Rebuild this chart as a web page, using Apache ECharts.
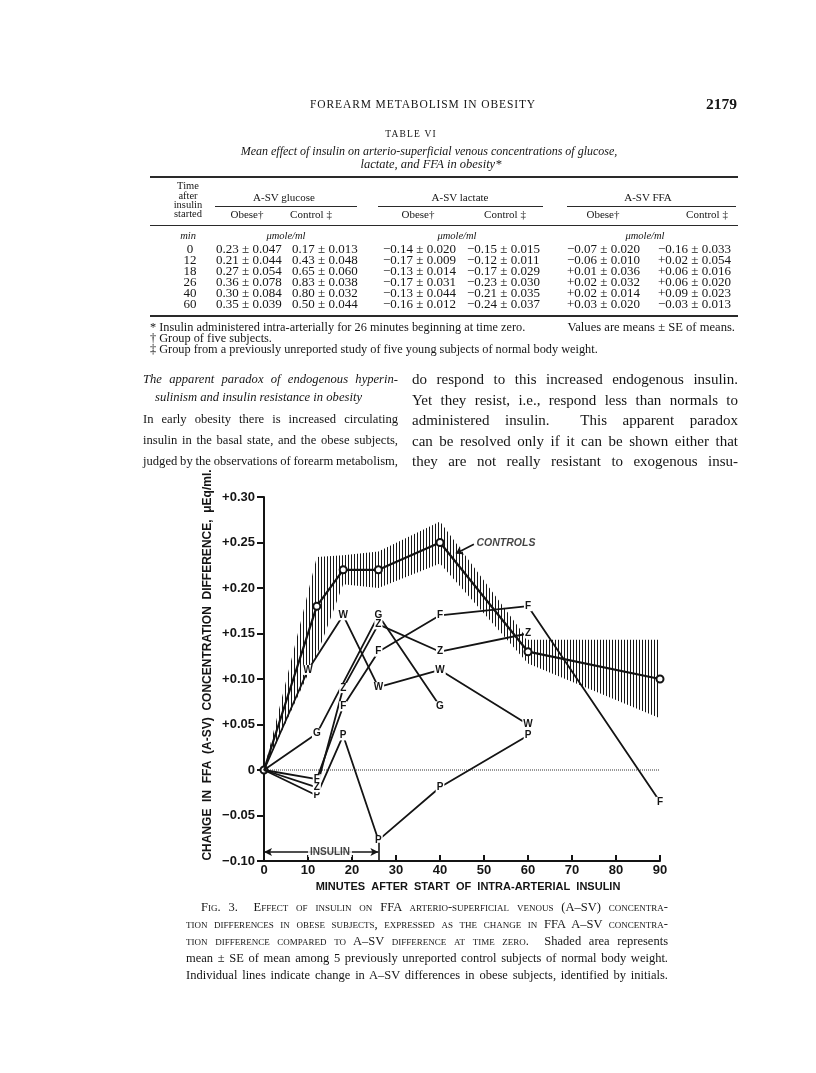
<!DOCTYPE html>
<html><head><meta charset="utf-8">
<script src="https://cdn.jsdelivr.net/npm/echarts@6/dist/echarts.min.js"></script>
<style>
html,body{margin:0;padding:0;background:#fff;}
#page{position:relative;width:816px;height:1073px;overflow:hidden;background:#fff;font-family:"Liberation Serif","DejaVu Serif",serif;color:#151515;}
#chart{position:absolute;left:0;top:0;width:816px;height:1073px;}
.t{position:absolute;white-space:nowrap;line-height:1;}
.hr{position:absolute;background:#2a2a2a;}
.sc{font-variant:small-caps;}
.it{font-style:italic;}
</style></head>
<body><div id="page"><div id="chart"></div></div>
<script>
// ---------- chart data ----------
const timesMin = [0, 12, 18, 26, 40, 60, 90];
const controlsMean = [0, 0.18, 0.22, 0.22, 0.25, 0.13, 0.10];
const controlsSE = [0, 0.054, 0.016, 0.020, 0.023, 0.013, 0.043];
const subjF = [[0,0],[12,-0.01],[18,0.07],[26,0.13],[40,0.17],[60,0.18],[90,-0.035]];
const subjG = [[0,0],[12,0.04],[26,0.17],[40,0.07]];
const subjP = [[0,0],[12,-0.028],[18,0.038],[26,-0.077],[40,-0.019],[60,0.038]];
const subjW = [[0,0],[10,0.11],[18,0.17],[26,0.091],[40,0.11],[60,0.05]];
const subjZ = [[0,0],[12,-0.019],[18,0.09],[26,0.16],[40,0.13],[60,0.15]];
const insulinMinutes = [0, 26];
const xTickLabels = ['0','10','20','30','40','50','60','70','80','90'];
const yTickLabels = ['\u22120.10','\u22120.05','0','+0.05','+0.10','+0.15','+0.20','+0.25','+0.30'];

// ---------- table data ----------
const tblTimes = ['0','12','18','26','40','60'];
const glucObese = ['0.23 \u00b1 0.047','0.21 \u00b1 0.044','0.27 \u00b1 0.054','0.36 \u00b1 0.078','0.30 \u00b1 0.084','0.35 \u00b1 0.039'];
const glucControl = ['0.17 \u00b1 0.013','0.43 \u00b1 0.048','0.65 \u00b1 0.060','0.83 \u00b1 0.038','0.80 \u00b1 0.032','0.50 \u00b1 0.044'];
const lactObese = ['\u22120.14 \u00b1 0.020','\u22120.17 \u00b1 0.009','\u22120.13 \u00b1 0.014','\u22120.17 \u00b1 0.031','\u22120.13 \u00b1 0.044','\u22120.16 \u00b1 0.012'];
const lactControl = ['\u22120.15 \u00b1 0.015','\u22120.12 \u00b1 0.011','\u22120.17 \u00b1 0.029','\u22120.23 \u00b1 0.030','\u22120.21 \u00b1 0.035','\u22120.24 \u00b1 0.037'];
const ffaObese = ['\u22120.07 \u00b1 0.020','\u22120.06 \u00b1 0.010','+0.01 \u00b1 0.036','+0.02 \u00b1 0.032','+0.02 \u00b1 0.014','+0.03 \u00b1 0.020'];
const ffaControl = ['\u22120.16 \u00b1 0.033','+0.02 \u00b1 0.054','+0.06 \u00b1 0.016','+0.06 \u00b1 0.020','+0.09 \u00b1 0.023','\u22120.03 \u00b1 0.013'];

// ---------- page text helpers ----------
const page = document.getElementById('page');
function put(html, x, y, fs, o){
  o = o || {};
  const d = document.createElement('div');
  d.className = 't' + (o.cls ? ' ' + o.cls : '');
  d.innerHTML = html;
  d.style.fontSize = fs + 'px';
  if (o.ls) d.style.letterSpacing = o.ls + 'px';
  if (o.weight) d.style.fontWeight = o.weight;
  d.style.top = (y - fs * 0.55) + 'px';
  page.appendChild(d);
  const w = d.getBoundingClientRect().width;
  if (o.width) {
    const n = (d.textContent.match(/[ \u00a0]/g) || []).length;
    if (n) d.style.wordSpacing = ((o.width - w) / n) + 'px';
    d.style.left = x + 'px';
  } else if (o.align === 'center') d.style.left = (x - w / 2) + 'px';
  else if (o.align === 'right') d.style.left = (x - w) + 'px';
  else d.style.left = x + 'px';
  return d;
}
function hr(x1, x2, y, h){
  const d = document.createElement('div'); d.className = 'hr';
  d.style.left = x1 + 'px'; d.style.width = (x2 - x1) + 'px'; d.style.top = y + 'px'; d.style.height = (h || 1) + 'px';
  page.appendChild(d);
}

// header
put('FOREARM METABOLISM IN OBESITY', 423, 105, 11.5, {align:'center', ls:0.9});
put('2179', 737, 105, 15.5, {align:'right', weight:'bold'});
put('TABLE VI', 411, 135, 9.5, {align:'center', ls:1.2});
put('Mean effect of insulin on arterio-superficial venous concentrations of glucose,', 429, 152, 12, {align:'center', cls:'it'});
put('lactate, and <i>FFA</i> in obesity*', 431, 165, 12.5, {align:'center', cls:'it'});

// table
hr(150, 738, 176, 1.6);
put('Time', 188, 187, 10.5, {align:'center'});
put('after', 188, 196.5, 10.5, {align:'center'});
put('insulin', 188, 206, 10.5, {align:'center'});
put('started', 188, 215, 10.5, {align:'center'});
put('A-SV glucose', 284, 198, 11, {align:'center'});
put('A-SV lactate', 460, 198, 11, {align:'center'});
put('A-SV FFA', 648, 198, 11, {align:'center'});
hr(215, 357, 206, 0.8); hr(378, 543, 206, 0.8); hr(567, 736, 206, 0.8);
put('Obese\u2020', 247, 215, 11, {align:'center'});
put('Control \u2021', 311, 215, 11, {align:'center'});
put('Obese\u2020', 418, 215, 11, {align:'center'});
put('Control \u2021', 505, 215, 11, {align:'center'});
put('Obese\u2020', 603, 215, 11, {align:'center'});
put('Control \u2021', 707, 215, 11, {align:'center'});
hr(150, 738, 225, 0.9);
put('min', 188, 237, 10.5, {align:'center', cls:'it'});
put('\u03bcmole/ml', 286, 237, 10.5, {align:'center', cls:'it'});
put('\u03bcmole/ml', 457, 237, 10.5, {align:'center', cls:'it'});
put('\u03bcmole/ml', 645, 237, 10.5, {align:'center', cls:'it'});
const rowY = [249, 260, 271, 282, 293, 304];
const cols = [[glucObese, 216], [glucControl, 292], [lactObese, 383], [lactControl, 467], [ffaObese, 567], [ffaControl, 658]];
tblTimes.forEach((t, i) => {
  put(t, 190, rowY[i], 13, {align:'center'});
  cols.forEach(c => put(c[0][i], c[1], rowY[i], 13));
});
hr(150, 738, 315, 1.6);
put('* Insulin administered intra-arterially for 26 minutes beginning at time zero.', 150, 328, 12.3);
put('Values are means \u00b1 SE of means.', 735, 328, 12.6, {align:'right'});
put('\u2020 Group of five subjects.', 150, 339, 12.3);
put('\u2021 Group from a previously unreported study of five young subjects of normal body weight.', 150, 350, 12.3);

// body text
const LX = 143, LW = 255, RX = 412, RW = 326;
put('The apparent paradox of endogenous hyperin-', LX, 380, 12.6, {cls:'it', width:LW});
put('sulinism and insulin resistance in obesity', LX + 12, 398, 12.6, {cls:'it'});
put('In early obesity there is increased circulating', LX, 420, 12.6, {width:LW});
put('insulin in the basal state, and the obese subjects,', LX, 441, 12.6, {width:LW});
put('judged by the observations of forearm metabolism,', LX, 462, 12.6, {width:LW});
put('do respond to this increased endogenous insulin.', RX, 380, 15, {width:RW});
put('Yet they resist, i.e., respond less than normals to', RX, 401, 15, {width:RW});
put('administered insulin.&nbsp; This apparent paradox', RX, 421, 15, {width:RW});
put('can be resolved only if it can be shown either that', RX, 442, 15, {width:RW});
put('they are not really resistant to exogenous insu-', RX, 462, 15, {width:RW});

// figure caption
const CX = 186, CW = 482;
put('<span class="sc">Fig. 3.&nbsp; Effect of insulin on</span> FFA <span class="sc">arterio-superficial venous</span> (A\u2013SV) <span class="sc">concentra-</span>', CX + 15, 908, 12.5, {width:CW - 15});
put('<span class="sc">tion differences in obese subjects, expressed as the change in</span> FFA A\u2013SV <span class="sc">concentra-</span>', CX, 925, 12.5, {width:CW});
put('<span class="sc">tion difference compared to</span> A\u2013SV <span class="sc">difference at time zero.</span>&nbsp; Shaded area represents', CX, 942, 12.5, {width:CW});
put('mean \u00b1 SE of mean among 5 previously unreported control subjects of normal body weight.', CX, 959, 12.5, {width:CW});
put('Individual lines indicate change in A\u2013SV differences in obese subjects, identified by initials.', CX, 976, 12.5, {width:CW});

// ---------- chart ----------
const hatch = document.createElement('canvas');
hatch.width = 3; hatch.height = 4;
const hc = hatch.getContext('2d');
hc.fillStyle = '#161616'; hc.fillRect(0, 0, 1, 4);

const FONT = '"Liberation Sans", Arial, sans-serif';
function subjSeries(letter, pts){
  return {
    type:'line', name:letter, z:4,
    data: pts.map((p, i) => ({value:p, label:{show:i > 0}})),
    symbol:'circle', symbolSize:2, itemStyle:{color:'rgba(0,0,0,0)'},
    lineStyle:{color:'#141414', width:1.8},
    label:{position:'inside', formatter:letter, color:'#141414', fontFamily:FONT, fontWeight:'bold', fontSize:10, backgroundColor:'#fff', padding:[0,1,0,1]},
    emphasis:{disabled:true}, silent:true
  };
}

const chart = echarts.init(document.getElementById('chart'), null, {renderer:'canvas'});
const option = {
  animation:false,
  backgroundColor:'transparent',
  grid:{left:264, top:497, width:396, height:364, containLabel:false},
  xAxis:{
    type:'value', min:0, max:90, interval:10,
    axisLine:{onZero:false, lineStyle:{color:'#141414', width:2}},
    axisTick:{show:true, inside:true, length:6, lineStyle:{color:'#141414', width:2}},
    axisLabel:{color:'#141414', fontFamily:FONT, fontWeight:'bold', fontSize:13, margin:3,
      formatter:(v) => xTickLabels[Math.round(v / 10)]},
    splitLine:{show:false}
  },
  yAxis:{
    type:'value', min:-0.1, max:0.3, interval:0.05,
    axisLine:{show:true, onZero:false, lineStyle:{color:'#141414', width:2}},
    axisTick:{show:true, length:7, lineStyle:{color:'#141414', width:2}},
    axisLabel:{color:'#141414', fontFamily:FONT, fontWeight:'bold', fontSize:13, margin:9,
      formatter:(v) => yTickLabels[Math.round((v + 0.1) / 0.05)]},
    splitLine:{show:false}
  },
  graphic:[
    {type:'text', x:208, y:665, rotation:Math.PI / 2, silent:true,
      style:{text:'CHANGE  IN  FFA  (A-SV)  CONCENTRATION  DIFFERENCE,  \u03bcEq/ml.', fill:'#141414',
        font:'bold 12px "Liberation Sans", Arial, sans-serif', align:'center', verticalAlign:'middle'}},
    {type:'text', x:468, y:887, silent:true,
      style:{text:'MINUTES  AFTER  START  OF  INTRA-ARTERIAL  INSULIN', fill:'#141414',
        font:'bold 11px "Liberation Sans", Arial, sans-serif', align:'center', verticalAlign:'middle'}}
  ],
  series:[
    {type:'custom', z:1, silent:true, clip:true,
      data:[[0, 0]],
      renderItem:(params, api) => {
        const up = timesMin.map((t, i) => api.coord([t, controlsMean[i] + controlsSE[i]]));
        const lo = timesMin.map((t, i) => api.coord([t, controlsMean[i] - controlsSE[i]])).reverse();
        return {type:'polygon', shape:{points:up.concat(lo)},
          style:{fill:{type:'pattern', image:hatch, repeat:'repeat'}, stroke:null}};
      }},
    {type:'line', z:2, silent:true, symbol:'none',
      lineStyle:{color:'#333', width:1, type:'dotted'},
      data:[[0, 0], [90, 0]],
      markLine:{silent:true, animation:false, symbol:['arrow','arrow'], symbolSize:[6, 8],
        lineStyle:{color:'#141414', width:1.6, type:'solid'}, label:{show:false},
        data:[
          [{coord:[insulinMinutes[0], -0.09]}, {coord:[insulinMinutes[1], -0.09]}],
          [{coord:[insulinMinutes[1], -0.1], symbol:'none'}, {coord:[insulinMinutes[1], -0.08], symbol:'none'}],
          [{coord:[47.7, 0.248], symbol:'none', lineStyle:{curveness:0.25, width:1.6}}, {coord:[43.6, 0.238], symbol:'arrow', symbolSize:7}]
        ]}
    },
    {type:'line', z:3, silent:true, name:'Controls',
      data: timesMin.map((t, i) => [t, controlsMean[i]]),
      symbol:'emptyCircle', symbolSize:7, showAllSymbol:true,
      itemStyle:{color:'#141414', borderWidth:1.8},
      lineStyle:{color:'#141414', width:2.2}},
    subjSeries('F', subjF),
    subjSeries('G', subjG),
    subjSeries('P', subjP),
    subjSeries('W', subjW),
    subjSeries('Z', subjZ),
    {type:'scatter', z:5, silent:true, symbolSize:0,
      data:[{value:[15, -0.09], label:{formatter:'INSULIN', position:'inside', backgroundColor:'#fff', padding:[0,2,0,2]}},
            {value:[48.3, 0.2495], label:{formatter:'CONTROLS', position:'right', distance:0, fontStyle:'italic', fontSize:10.5}}],
      label:{show:true, color:'#141414', fontFamily:FONT, fontWeight:'bold', fontSize:10}}
  ]
};
chart.setOption(option);
</script>
</body></html>
